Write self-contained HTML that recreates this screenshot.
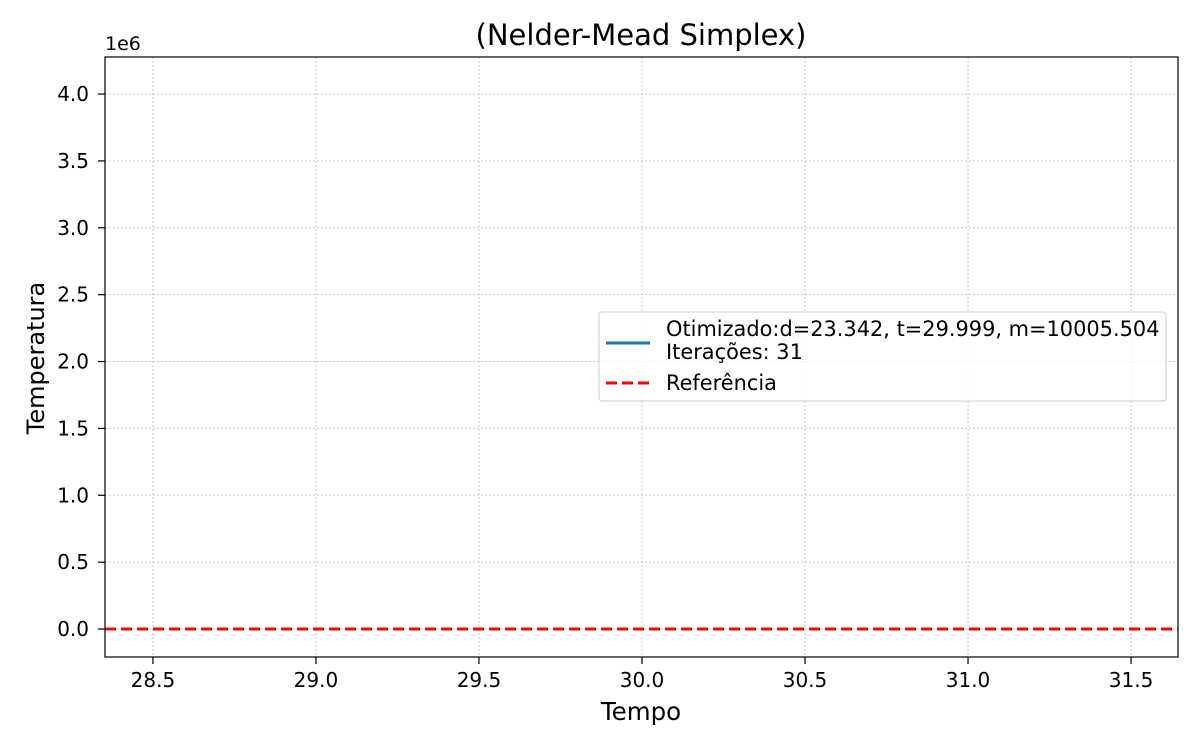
<!DOCTYPE html>
<html><head><meta charset="utf-8"><style>
body{margin:0;background:#fff;font-family:"Liberation Sans","DejaVu Sans",sans-serif}
</style></head><body>
<svg width="1200" height="750" xmlns="http://www.w3.org/2000/svg" font-family="DejaVu Sans, Liberation Sans, sans-serif">
<g id="grid"></g>
<g id="series"></g>
<rect x="105" y="57" width="1073" height="600" fill="none" stroke="#000" stroke-width="1.2"/>
<g id="ticks" font-size="20"></g>
<text x="105" y="50" font-size="19">1e6</text>
<text x="641" y="45" font-size="29" text-anchor="middle">(Nelder-Mead Simplex)</text>
<text x="641" y="720" font-size="24.5" text-anchor="middle">Tempo</text>
<text transform="translate(44,358) rotate(-90)" font-size="24" text-anchor="middle">Temperatura</text>
<g>
<rect x="599" y="312" width="567" height="89" rx="3" fill="#fff" fill-opacity="0.8" stroke="#ccc"/>
<line x1="606" y1="343" x2="650" y2="343" stroke="#1f77b4" stroke-width="3"/>
<text x="666" y="336" font-size="20.9">Otimizado:d=23.342, t=29.999, m=10005.504</text>
<text x="666" y="359" font-size="20.9">Iterações: 31</text>
<line x1="606" y1="383" x2="650" y2="383" stroke="#ff0000" stroke-width="3" stroke-dasharray="11,5"/>
<text x="666" y="390" font-size="20.9">Referência</text>
</g>
</svg>
<script>
const xTicks=[28.5,29.0,29.5,30.0,30.5,31.0,31.5];
const yTicks=[0,0.5,1.0,1.5,2.0,2.5,3.0,3.5,4.0];
const timeVals=[28.353,31.644];
const optimizedVals=[0,0];
const referenceVals=[0,0];
const X0=105,X1=1178,Y0=657,Y1=57,xmin=28.353,xmax=31.644,ymin=-0.209,ymax=4.277;
const sx=v=>X0+(v-xmin)/(xmax-xmin)*(X1-X0);
const sy=v=>Y0-(v-ymin)/(ymax-ymin)*(Y0-Y1);
const NS="http://www.w3.org/2000/svg";
const g=document.getElementById('grid'),t=document.getElementById('ticks'),s=document.getElementById('series');
function mk(tag,a,p){const e=document.createElementNS(NS,tag);for(const k in a)e.setAttribute(k,a[k]);p.appendChild(e);return e;}
xTicks.forEach(v=>{const x=sx(v);
const l=mk('line',{x1:x,x2:x,y1:Y1,y2:Y0,stroke:'#b0b0b0','stroke-width':1,'stroke-dasharray':'2,2','stroke-opacity':0.7},g);


const tk=mk('line',{x1:x,x2:x,y1:Y0,y2:Y0+7,stroke:'#000','stroke-width':1.2},t);


const tx=mk('text',{x:x,y:Y0+30,'text-anchor':'middle'},t);tx.textContent=v.toFixed(1);

});
yTicks.forEach(v=>{const y=sy(v);
const l=mk('line',{x1:X0,x2:X1,y1:y,y2:y,stroke:'#b0b0b0','stroke-width':1,'stroke-dasharray':'2,2','stroke-opacity':0.7},g);


const tk=mk('line',{x1:X0-7,x2:X0,y1:y,y2:y,stroke:'#000','stroke-width':1.2},t);


const tx=mk('text',{x:X0-16,y:y+7,'text-anchor':'end'},t);tx.textContent=v.toFixed(1);

});
const pts=a=>a.map((v,i)=>sx(timeVals[i])+','+sy(v)).join(' ');
const r=mk('polyline',{points:pts(referenceVals),fill:'none',stroke:'#ff0000','stroke-width':3,'stroke-dasharray':'11,5'},s);


</script>
</body></html>
